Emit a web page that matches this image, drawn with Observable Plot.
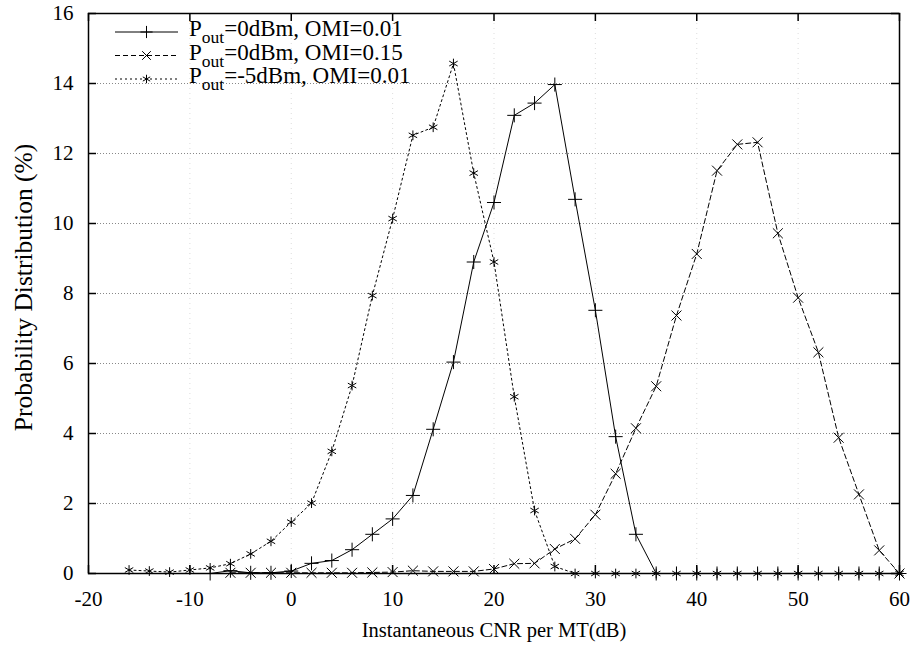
<!DOCTYPE html>
<html><head><meta charset="utf-8">
<script src="https://cdn.jsdelivr.net/npm/d3@7"></script>
<script src="https://cdn.jsdelivr.net/npm/@observablehq/plot@0.6"></script>
<style>
html,body{margin:0;padding:0;background:#fff;}
#chart{width:912px;height:648px;}
</style></head><body><div id="chart"></div>
<script>
// ---- data ----
const cnrA = [-8,-6,-4,-2,0,2,4,6,8,10,12,14,16,18,20,22,24,26,28,30,32,34,36,38,40,42,44,46,48,50,52,54,56,58,60];
const probA = [0,0.08,0.02,0.02,0.07,0.29,0.37,0.68,1.12,1.56,2.23,4.12,6.04,8.9,10.6,13.09,13.44,13.97,10.69,7.52,3.91,1.12,0,0,0,0,0,0,0,0,0,0,0,0,0];

const cnrB = [-6,-4,-2,0,2,4,6,8,10,12,14,16,18,20,22,24,26,28,30,32,34,36,38,40,42,44,46,48,50,52,54,56,58,60];
const probB = [0.02,0.02,0.02,0.02,0.02,0.02,0.02,0.03,0.04,0.08,0.06,0.06,0.06,0.13,0.28,0.29,0.7,0.99,1.68,2.85,4.15,5.35,7.37,9.13,11.51,12.26,12.32,9.72,7.88,6.32,3.88,2.26,0.66,0];

const cnrC = [-16,-14,-12,-10,-8,-6,-4,-2,0,2,4,6,8,10,12,14,16,18,20,22,24,26,28,30,32,34,36,38,40,42,44,46,48,50,52,54,56,58,60];
const probC = [0.1,0.07,0.04,0.1,0.16,0.28,0.56,0.92,1.47,2.01,3.49,5.37,7.94,10.14,12.52,12.75,14.57,11.44,8.9,5.05,1.8,0.2,0,0,0,0,0,0,0,0,0,0,0,0,0,0,0,0,0];

const legendMain = ["P", "P", "P"];
const legendSub = ["out", "out", "out"];
const legendRest = ["=0dBm, OMI=0.01", "=0dBm, OMI=0.15", "=-5dBm, OMI=0.01"];

const xTicks = [-20, -10, 0, 10, 20, 30, 40, 50, 60];
const yTicks = [0, 2, 4, 6, 8, 10, 12, 14, 16];
const xLabel = "Instantaneous CNR per MT(dB)";
const yLabel = "Probability Distribution (%)";

// ---- styles ----
const W = 912, H = 648;
const mL = 88, mR = 13, mT = 13, mB = 75;
const plotW = W - mL - mR, plotH = H - mT - mB;
const FONT = "Liberation Serif, Times New Roman, serif";
const styles = [
  {symbol: "plus", d3sym: d3.symbolPlus, dash: null},
  {symbol: "times", d3sym: d3.symbolTimes, dash: "5,3"},
  {symbol: "asterisk", d3sym: d3.symbolAsterisk, dash: "2,3"}
];
const R = 4.6;

const series = [
  cnrA.map((x, i) => ({x, y: probA[i]})),
  cnrB.map((x, i) => ({x, y: probB[i]})),
  cnrC.map((x, i) => ({x, y: probC[i]}))
];

function legend(index, scales, values, dims) {
  const g = d3.create("svg:g");
  const x0 = 115, x1 = 178, tx = 189;
  const rowY = [32, 55.5, 79];
  styles.forEach((s, i) => {
    const y = rowY[i];
    g.append("line").attr("x1", x0).attr("x2", x1).attr("y1", y).attr("y2", y)
      .attr("stroke", "black").attr("stroke-width", 1)
      .attr("stroke-dasharray", s.dash);
    g.append("path").attr("d", d3.symbol(s.d3sym, Math.PI * 4 * 4)())
      .attr("transform", `translate(${(x0 + x1) / 2},${y})`)
      .attr("fill", "none").attr("stroke", "black").attr("stroke-width", 1);
    const t = g.append("text").attr("x", tx).attr("y", y + 4)
      .attr("text-anchor", "start")
      .attr("font-family", FONT).attr("font-size", 23).attr("fill", "black");
    t.append("tspan").text(legendMain[i]);
    t.append("tspan").attr("font-size", 17.5).attr("dy", 7).text(legendSub[i]);
    t.append("tspan").attr("dy", -7).text(legendRest[i]);
  });
  return g.node();
}

const marks = [
  Plot.gridY(yTicks.slice(1, -1), {stroke: "#888", strokeOpacity: 1, strokeDasharray: "1,2", strokeWidth: 1}),
  Plot.gridX(xTicks.slice(1, -1), {stroke: "#bbb", strokeOpacity: 0.5, strokeDasharray: "1,4", strokeWidth: 1}),
];
series.forEach((data, i) => {
  marks.push(Plot.line(data, {x: "x", y: "y", stroke: "black", strokeWidth: 1, strokeDasharray: styles[i].dash}));
  marks.push(Plot.dot(data, {x: "x", y: "y", symbol: styles[i].symbol, r: R, stroke: "black", strokeWidth: 1}));
});
marks.push(
  Plot.tickY(yTicks, {y: d => d, insetRight: plotW - 8, stroke: "black", strokeWidth: 1.5}),
  Plot.tickY(yTicks, {y: d => d, insetLeft: plotW - 8, stroke: "black", strokeWidth: 1.5}),
  Plot.tickX(xTicks, {x: d => d, insetTop: plotH - 8, stroke: "black", strokeWidth: 1.5}),
  Plot.tickX(xTicks, {x: d => d, insetBottom: plotH - 8, stroke: "black", strokeWidth: 1.5}),
  Plot.frame({stroke: "black", strokeWidth: 1.5}),
  Plot.axisX(xTicks, {anchor: "bottom", tickSize: 0, tickPadding: 18, label: null, fontSize: 21, fill: "black", tickFormat: d => String(d)}),
  Plot.axisY(yTicks, {anchor: "left", tickSize: 0, tickPadding: 15, label: null, fontSize: 21, fill: "black", tickFormat: d => String(d)}),
  Plot.text([xLabel], {text: d => d, frameAnchor: "bottom", dy: 63, fontSize: 20.5, fill: "black"}),
  Plot.text([yLabel], {text: d => d, frameAnchor: "left", textAnchor: "middle", dx: -65, dy: -6, rotate: -90, fontSize: 25.5, fill: "black"}),
  legend
);

const chart = Plot.plot({
  width: W, height: H,
  marginLeft: mL, marginRight: mR, marginTop: mT, marginBottom: mB,
  x: {domain: [-20, 60]},
  y: {domain: [0, 16]},
  style: {fontFamily: FONT, fontSize: "20px", background: "white", color: "black"},
  marks
});
document.getElementById("chart").appendChild(chart);
</script>
</body></html>
